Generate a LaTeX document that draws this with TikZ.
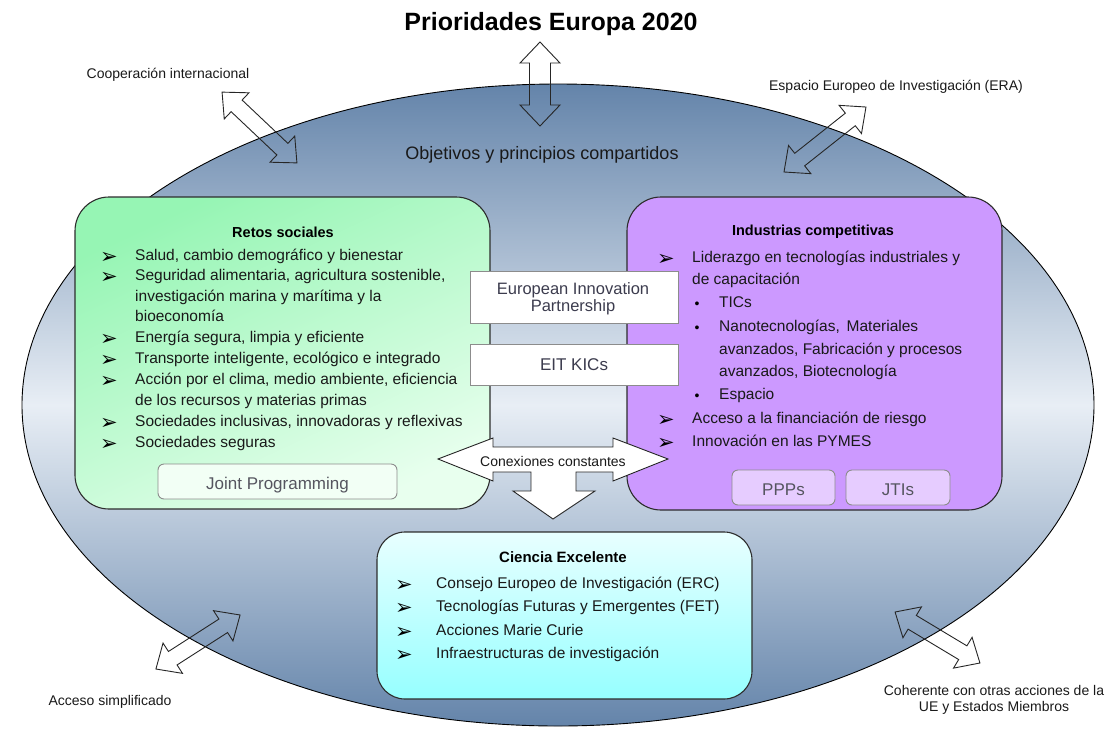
\documentclass[tikz,border=0pt]{standalone}
\usepackage{fontspec}
\setmainfont{Liberation Sans}
\newfontfamily\symfont{DejaVu Sans}
\definecolor{ellTop}{RGB}{100,132,170}
\definecolor{ellMid}{RGB}{232,238,245}
\definecolor{greenTop}{RGB}{150,245,180}
\definecolor{greenBot}{RGB}{232,255,238}
\definecolor{purp}{RGB}{204,153,255}
\definecolor{purpLight}{RGB}{230,204,255}
\definecolor{cyanTop}{RGB}{232,255,255}
\definecolor{cyanBot}{RGB}{150,255,255}
\definecolor{edge}{RGB}{45,45,45}
\definecolor{subtxt}{RGB}{85,85,95}
\definecolor{eiptxt}{RGB}{60,60,78}
\definecolor{bodytxt}{RGB}{25,25,25}
\newcommand\dblarrow[7]{%
  \draw[arrowline, shift={(#1,#2)}, rotate=#3]
    (-#4,0) -- (-#4+#5,#6) -- (-#4+#5,#7) -- (#4-#5,#7) -- (#4-#5,#6) -- (#4,0)
    -- (#4-#5,-#6) -- (#4-#5,-#7) -- (-#4+#5,-#7) -- (-#4+#5,-#6) -- cycle;}
\begin{document}
\begin{tikzpicture}[x=1pt,y=-1pt,
  arrowline/.style={draw=black!85, line width=0.9pt},
  bigbox/.style={draw=edge, line width=1.1pt, rounded corners=34pt, inner sep=0},
  subbox/.style={draw=black!45, line width=0.9pt, inner sep=0},
  item/.style={anchor=mid west, inner sep=0, text=bodytxt, font=\fontsize{15.5}{18}\selectfont},
  bul/.style={anchor=center, inner sep=0, text=black, font=\symfont\fontsize{21}{22}\selectfont},
  dot/.style={anchor=center, inner sep=0, text=black, font=\fontsize{14}{14}\selectfont},
  head/.style={anchor=center, inner sep=0, text=black, font=\bfseries\fontsize{14.5}{17}\selectfont},
  lab/.style={anchor=center, inner sep=0, text=bodytxt, font=\fontsize{14}{17}\selectfont, align=center},
  subtext/.style={anchor=center, inner sep=0, text=subtxt, font=\fontsize{17}{17}\selectfont, align=center}]
\useasboundingbox (0,0) rectangle (1112,732);

% ellipse
\draw[black, line width=0.9pt, top color=ellTop, bottom color=ellTop, middle color=ellMid]
  (558,405) ellipse [x radius=536pt, y radius=321pt];

% title and outer labels
\node[anchor=center, inner sep=0, font=\bfseries\fontsize{25}{28}\selectfont] (title) at (551,24) {Prioridades Europa 2020};
\node[lab] (coop) at (168,75) {Cooperación internacional};
\node[lab] (era) at (896,87) {Espacio Europeo de Investigación (ERA)};
\node[lab, font=\fontsize{18}{20}\selectfont] (obj) at (542,155) {Objetivos y principios compartidos};
\node[lab] (acc) at (110,702) {Acceso simplificado};
\node[lab, font=\fontsize{14}{16}\selectfont] (coh) at (994,700) {Coherente con otras acciones de la\\UE y Estados Miembros};

% outer block arrows
\dblarrow{540}{84}{90}{42}{21}{20}{10.5}
\dblarrow{259.5}{127.5}{-43.4}{51.5}{20}{18}{8}
\dblarrow{825}{139.5}{38.4}{52.3}{20}{18}{8}
\dblarrow{198}{642}{32.7}{50}{20}{18}{8}
\dblarrow{937.5}{637.5}{-31}{49.5}{20}{18}{8}

% green box
\node[bigbox, shading=axis, top color=greenTop, bottom color=greenBot, shading angle=25, minimum width=415pt, minimum height=312pt] (retos) at (282.5,353) {};
\node[head] (retosT) at (283,232) {Retos sociales};
\foreach \yy/\nm in {257.5/g1, 278/g2, 340/g3, 361/g4, 382/g5, 424/g6, 445/g7}
  \node[bul] (\nm b) at (109,\yy) {➢};
\node[item] (g1) at (135,257.5) {Salud, cambio demográfico y bienestar};
\node[item] (g2) at (135,278) {Seguridad alimentaria, agricultura sostenible,};
\node[item] (g2a) at (135,299) {investigación marina y marítima y la};
\node[item] (g2b) at (135,319) {bioeconomía};
\node[item] (g3) at (135,340) {Energía segura, limpia y eficiente};
\node[item] (g4) at (135,361) {Transporte inteligente, ecológico e integrado};
\node[item] (g5) at (135,382) {Acción por el clima, medio ambiente, eficiencia};
\node[item] (g5a) at (135,403) {de los recursos y materias primas};
\node[item] (g6) at (135,424) {Sociedades inclusivas, innovadoras y reflexivas};
\node[item] (g7) at (135,445) {Sociedades seguras};
\node[subbox, rounded corners=6pt, fill={rgb,255:red,242;green,255;blue,245}, minimum width=239pt, minimum height=35pt] (joint) at (277.5,481.5) {};
\node[subtext] (jointT) at (277.5,485) {Joint Programming};

% purple box
\node[bigbox, fill=purp, minimum width=375pt, minimum height=313pt] (ind) at (814.5,353.5) {};
\node[head] (indT) at (813,232) {Industrias competitivas};
\foreach \yy/\nm in {260/p1, 421/p2, 444/p3}
  \node[bul] (\nm b) at (666,\yy) {➢};
\foreach \yy/\nm in {305/d1, 329/d2, 397/d3}
  \node[dot] (\nm b) at (697,\yy) {•};
\node[item] (p1) at (692,260) {Liderazgo en tecnologías industriales y};
\node[item] (p1a) at (692,282) {de capacitación};
\node[item] (d1) at (719,305) {TICs};
\node[item] (d2) at (719,329) {Nanotecnologías,\, Materiales};
\node[item] (d2a) at (719,352) {avanzados, Fabricación y procesos};
\node[item] (d2b) at (719,374) {avanzados, Biotecnología};
\node[item] (d3) at (719,397) {Espacio};
\node[item] (p2) at (692,421) {Acceso a la financiación de riesgo};
\node[item] (p3) at (692,444) {Innovación en las PYMES};
\node[subbox, rounded corners=6pt, fill=purpLight, minimum width=103pt, minimum height=35pt] (ppp) at (783.5,487.5) {};
\node[subtext] (pppT) at (783.5,490) {PPPs};
\node[subbox, rounded corners=6pt, fill=purpLight, minimum width=104pt, minimum height=35pt] (jti) at (898,487.5) {};
\node[subtext] (jtiT) at (898,490) {JTIs};

% middle boxes
\node[subbox, fill=white, minimum width=208pt, minimum height=52pt] (eip) at (574,297) {};
\node[subtext, text=eiptxt, font=\fontsize{16.5}{17}\selectfont] (eipT) at (573,299) {European Innovation\\Partnership};
\node[subbox, fill=white, minimum width=208pt, minimum height=41pt] (eit) at (574,364.5) {};
\node[subtext, text=eiptxt] (eitT) at (574,365) {EIT KICs};

% connections arrow
\draw[fill=white, draw=black!85, line width=0.9pt]
  (438,459) -- (493,438) -- (493,447) -- (613,447) -- (613,438) -- (668,459)
  -- (613,481) -- (613,472) -- (576,472) -- (576,491) -- (595,491) -- (553,519)
  -- (513,491) -- (531,491) -- (531,472) -- (493,472) -- (493,481) -- cycle;
\node[lab] (conex) at (553,461) {Conexiones constantes};

% cyan box
\node[bigbox, rounded corners=28pt, top color=cyanTop, bottom color=cyanBot, minimum width=375pt, minimum height=167pt] (cien) at (564.5,615.5) {};
\node[head, font=\bfseries\fontsize{15}{17}\selectfont] (cienT) at (563,557) {Ciencia Excelente};
\foreach \yy/\nm in {586/c1, 609/c2, 633/c3, 656/c4}
  \node[bul] (\nm b) at (404,\yy) {➢};
\node[item] (c1) at (436,586) {Consejo Europeo de Investigación (ERC)};
\node[item] (c2) at (436,609) {Tecnologías Futuras y Emergentes (FET)};
\node[item] (c3) at (436,633) {Acciones Marie Curie};
\node[item] (c4) at (436,656) {Infraestructuras de investigación};
\end{tikzpicture}
\end{document}
